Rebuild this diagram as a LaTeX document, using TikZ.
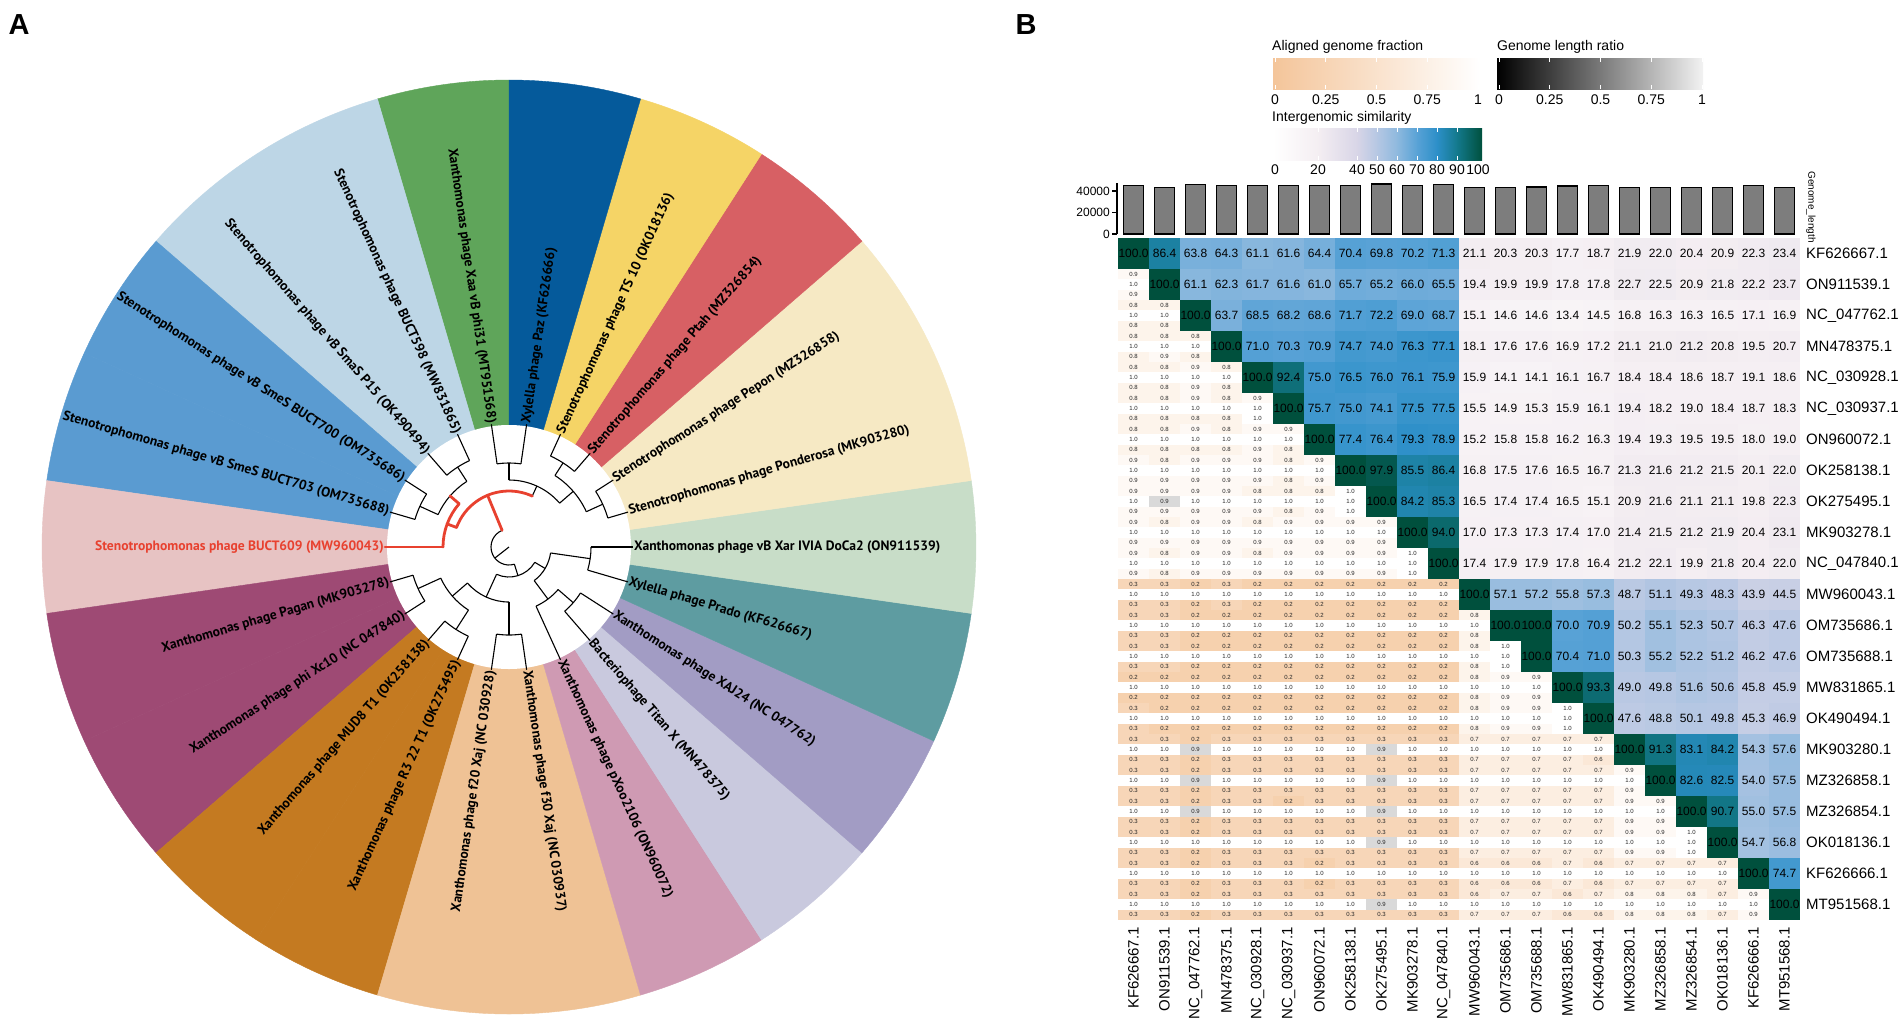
\documentclass[tikz,border=0pt]{standalone}
\usepackage{fontspec}
\setmainfont{Liberation Sans}
\newfontfamily\treefont{PT Sans}
% sector colours
\definecolor{secA}{HTML}{5FA55A}
\definecolor{secB}{HTML}{BDD6E6}
\definecolor{secC}{HTML}{5A9BD1}
\definecolor{secD}{HTML}{E7C3C3}
\definecolor{secE}{HTML}{9E4A74}
\definecolor{secF}{HTML}{C47A21}
\definecolor{secG}{HTML}{EFC295}
\definecolor{secH}{HTML}{CF9AB3}
\definecolor{secI}{HTML}{C9C9DE}
\definecolor{secJ}{HTML}{A29CC4}
\definecolor{secK}{HTML}{5E9CA1}
\definecolor{secL}{HTML}{C8DDC8}
\definecolor{secM}{HTML}{F6E9C4}
\definecolor{secN}{HTML}{D76064}
\definecolor{secO}{HTML}{F5D466}
\definecolor{secP}{HTML}{055A9B}
\definecolor{treered}{HTML}{E8412F}
% heatmap colours
\definecolor{sA}{HTML}{FFFFFF}
\definecolor{sB}{HTML}{F4EEF2}
\definecolor{sC}{HTML}{D8D5E7}
\definecolor{sD}{HTML}{B5C7E3}
\definecolor{sE}{HTML}{8EB9DE}
\definecolor{sF}{HTML}{58A2D6}
\definecolor{sG}{HTML}{2C8FC8}
\definecolor{sH}{HTML}{13798C}
\definecolor{sI}{HTML}{00503D}
\definecolor{peach}{HTML}{F4C59A}
\definecolor{bargray}{HTML}{7D7D7D}

\newcommand\setsim[1]{%
 \pgfmathsetmacro\hmv{#1}%
 \ifdim\hmv pt<20pt \pgfmathsetmacro\hmt{5*\hmv}\colorlet{cc}{sB!\hmt!sA}%
 \else\ifdim\hmv pt<40pt \pgfmathsetmacro\hmt{5*(\hmv-20)}\colorlet{cc}{sC!\hmt!sB}%
 \else\ifdim\hmv pt<50pt \pgfmathsetmacro\hmt{10*(\hmv-40)}\colorlet{cc}{sD!\hmt!sC}%
 \else\ifdim\hmv pt<60pt \pgfmathsetmacro\hmt{10*(\hmv-50)}\colorlet{cc}{sE!\hmt!sD}%
 \else\ifdim\hmv pt<70pt \pgfmathsetmacro\hmt{10*(\hmv-60)}\colorlet{cc}{sF!\hmt!sE}%
 \else\ifdim\hmv pt<80pt \pgfmathsetmacro\hmt{10*(\hmv-70)}\colorlet{cc}{sG!\hmt!sF}%
 \else\ifdim\hmv pt<90pt \pgfmathsetmacro\hmt{10*(\hmv-80)}\colorlet{cc}{sH!\hmt!sG}%
 \else \pgfmathsetmacro\hmt{min(100,10*(\hmv-90))}\colorlet{cc}{sI!\hmt!sH}%
 \fi\fi\fi\fi\fi\fi\fi}
\newcommand\fmtv[1]{\ifnum#1=10 1.0\else0.#1\fi}
\newcommand\tcarc[3]{\draw[treeline] (#2:#1) arc[start angle=#2, end angle=#3, radius=#1];}
\newcommand\tcrad[3]{\draw[treeline] (#1:#2) -- (#1:#3);}

\def\updata{%
{86.4,63.8,64.3,61.1,61.6,64.4,70.4,69.8,70.2,71.3,21.1,20.3,20.3,17.7,18.7,21.9,22.0,20.4,20.9,22.3,23.4},
{61.1,62.3,61.7,61.6,61.0,65.7,65.2,66.0,65.5,19.4,19.9,19.9,17.8,17.8,22.7,22.5,20.9,21.8,22.2,23.7},
{63.7,68.5,68.2,68.6,71.7,72.2,69.0,68.7,15.1,14.6,14.6,13.4,14.5,16.8,16.3,16.3,16.5,17.1,16.9},
{71.0,70.3,70.9,74.7,74.0,76.3,77.1,18.1,17.6,17.6,16.9,17.2,21.1,21.0,21.2,20.8,19.5,20.7},
{92.4,75.0,76.5,76.0,76.1,75.9,15.9,14.1,14.1,16.1,16.7,18.4,18.4,18.6,18.7,19.1,18.6},
{75.7,75.0,74.1,77.5,77.5,15.5,14.9,15.3,15.9,16.1,19.4,18.2,19.0,18.4,18.7,18.3},
{77.4,76.4,79.3,78.9,15.2,15.8,15.8,16.2,16.3,19.4,19.3,19.5,19.5,18.0,19.0},
{97.9,85.5,86.4,16.8,17.5,17.6,16.5,16.7,21.3,21.6,21.2,21.5,20.1,22.0},
{84.2,85.3,16.5,17.4,17.4,16.5,15.1,20.9,21.6,21.1,21.1,19.8,22.3},
{94.0,17.0,17.3,17.3,17.4,17.0,21.4,21.5,21.2,21.9,20.4,23.1},
{17.4,17.9,17.9,17.8,16.4,21.2,22.1,19.9,21.8,20.4,22.0},
{57.1,57.2,55.8,57.3,48.7,51.1,49.3,48.3,43.9,44.5},
{100.0,70.0,70.9,50.2,55.1,52.3,50.7,46.3,47.6},
{70.4,71.0,50.3,55.2,52.2,51.2,46.2,47.6},
{93.3,49.0,49.8,51.6,50.6,45.8,45.9},
{47.6,48.8,50.1,49.8,45.3,46.9},
{91.3,83.1,84.2,54.3,57.6},
{82.6,82.5,54.0,57.5},
{90.7,55.0,57.5},
{54.7,56.8},
{74.7}}

\def\lowdata{%
{9/10/9},
{8/10/8,8/10/8},
{8/10/8,8/10/9,8/10/8},
{8/10/8,8/10/8,9/10/9,8/10/8},
{8/10/8,8/10/8,9/10/8,8/10/8,9/10/10},
{8/10/8,8/10/8,9/10/8,8/10/8,9/10/9,9/10/8},
{9/10/9,8/10/9,9/10/9,9/10/9,9/10/9,8/10/8,9/10/9},
{9/10/9,9/9/9,9/10/9,9/10/9,8/10/9,8/10/8,8/10/9,10/10/10},
{9/10/9,8/10/9,9/10/9,9/10/9,8/10/9,9/10/9,9/10/9,9/10/9,9/10/9},
{9/10/9,8/10/8,9/10/9,9/10/9,8/10/9,9/10/9,9/10/9,9/10/9,9/10/9,10/10/10},
{3/10/3,3/10/3,2/10/2,3/10/3,2/10/2,2/10/2,2/10/2,2/10/2,2/10/2,2/10/2,2/10/2},
{3/10/3,3/10/3,2/10/2,2/10/2,2/10/2,2/10/2,2/10/2,2/10/2,2/10/2,2/10/2,2/10/2,8/10/8},
{3/10/3,3/10/3,2/10/2,2/10/2,2/10/2,2/10/2,2/10/2,2/10/2,2/10/2,2/10/2,2/10/2,8/10/8,10/10/10},
{2/10/2,2/10/2,2/10/2,2/10/2,2/10/2,2/10/2,2/10/2,2/10/2,2/10/2,2/10/2,2/10/2,8/10/8,9/10/9,9/10/9},
{3/10/3,2/10/2,2/10/2,2/10/2,2/10/2,2/10/2,2/10/2,2/10/2,2/10/2,2/10/2,2/10/2,8/10/8,9/10/9,9/10/9,10/10/10},
{3/10/3,3/10/3,2/9/2,3/10/3,3/10/3,3/10/3,3/10/3,3/10/3,3/9/3,3/10/3,3/10/3,7/10/7,7/10/7,7/10/7,7/10/7,7/10/6},
{3/10/3,3/10/3,2/9/2,3/10/3,3/10/3,3/10/3,3/10/3,3/10/3,3/9/3,3/10/3,3/10/3,7/10/7,7/10/7,7/10/7,7/10/7,7/10/7,9/10/9},
{3/10/3,3/10/3,2/9/2,3/10/3,3/10/3,2/10/3,3/10/3,3/10/3,3/9/3,3/10/3,3/10/3,7/10/7,7/10/7,7/10/7,7/10/7,7/10/7,9/10/9,9/10/9},
{3/10/3,3/10/3,2/10/2,3/10/3,3/10/3,3/10/3,3/10/3,3/10/3,3/9/3,3/10/3,3/10/3,7/10/7,7/10/7,7/10/7,7/10/7,7/10/7,9/10/9,9/10/9,10/10/10},
{3/10/3,3/10/3,2/10/2,3/10/3,3/10/3,3/10/3,2/10/2,3/10/3,3/10/3,3/10/3,3/10/3,6/10/6,6/10/6,6/10/6,7/10/7,6/10/6,7/10/7,7/10/7,7/10/7,7/10/7},
{3/10/3,3/10/3,2/10/2,3/10/3,3/10/3,3/10/3,3/10/3,3/10/3,3/9/3,3/10/3,3/10/3,6/10/7,7/10/7,7/10/7,6/10/6,7/10/6,8/10/8,8/10/8,8/10/8,7/10/7,9/10/9}}

\begin{document}
\begin{tikzpicture}[x=1pt,y=-1pt,
  treeline/.style={line width=1.1pt, black},
  redline/.style={line width=2.8pt, treered, line cap=round, line join=round},
  leaflab/.style={font=\fontsize{13.6}{13.6}\selectfont\treefont\bfseries, inner sep=0pt},
  upnum/.style={font=\fontsize{12}{12}\selectfont, inner sep=0pt},
  lonum/.style={font=\fontsize{6}{6}\selectfont, inner sep=0pt, text=black!85},
  axlab/.style={font=\fontsize{15}{15}\selectfont, inner sep=0pt},
  leglab/.style={font=\fontsize{14}{14}\selectfont, inner sep=0pt},
  ticklab/.style={font=\fontsize{12}{12}\selectfont, inner sep=0pt},
  gbar/.style={fill=bargray, draw=black, line width=1.2pt},
  paneltag/.style={font=\fontsize{29}{29}\selectfont\bfseries, inner sep=0pt}]
\fill[white] (0,0) rectangle (1900,1021);
\useasboundingbox (0,0) rectangle (1900,1021);

\node[paneltag] (tagA) at (19,25) {A};
\node[paneltag] (tagB) at (1026,25) {B};

% ================= Panel A =================
\begin{scope}[shift={(509,547)}, y=1pt]
 \foreach \c [count=\k from 0] in {secA,secB,secB,secC,secC,secD,secE,secE,secF,secF,secG,secG,secH,secI,secJ,secK,secL,secM,secM,secN,secO,secP} {
   \pgfmathsetmacro\sa{90+360/22*\k}
   \pgfmathsetmacro\sb{\sa+360/22}
   \fill[\c, draw=\c, line width=0.4pt] (0,0) -- (\sa:467) arc[start angle=\sa, end angle=\sb, radius=467] -- cycle;
 }
 \fill[white] (0,0) circle[radius=122];
 % leaf branches
 \foreach \ang/\rr in {98.18/84,114.55/95,130.91/95,147.27/98,163.64/98,196.36/100,212.73/100,229.09/98,245.45/98,261.82/88,278.18/88,294.55/65,310.91/85,327.27/85,343.64/82,360/82,16.36/103,32.73/103,49.09/100,65.45/100,81.82/84}
   {\draw[treeline] (\ang:\rr) -- (\ang:124);}
 % internal arcs
 \tcarc{84}{81.82}{98.18}
 \tcarc{100}{49.09}{65.45}
 \tcarc{103}{16.36}{32.73}
 \tcarc{85}{24.55}{57.27}
 \tcarc{67}{40.91}{90}
 \tcarc{95}{114.55}{130.91}
 \tcarc{98}{147.27}{163.64}
 \tcarc{78}{122.73}{155.45}
 \tcarc{18}{112.5}{287.39}
 \tcarc{30}{245.45}{329.32}
 \tcarc{55}{220.91}{270}
 \tcarc{75}{204.55}{237.27}
 \tcarc{100}{196.36}{212.73}
 \tcarc{98}{229.09}{245.45}
 \tcarc{88}{261.82}{278.18}
 \tcarc{42}{306.82}{351.82}
 \tcarc{65}{294.55}{319.09}
 \tcarc{85}{310.91}{327.27}
 \tcarc{82}{343.64}{360}
 % internal radials
 \tcrad{90}{67}{84}
 \tcrad{40.91}{67}{85}
 \tcrad{24.55}{85}{103}
 \tcrad{57.27}{85}{100}
 \tcrad{65.45}{56}{67}
 \tcrad{122.73}{78}{95}
 \tcrad{155.45}{78}{98}
 \tcrad{287.39}{18}{30}
 \tcrad{245.45}{30}{55}
 \tcrad{329.32}{30}{42}
 \tcrad{220.91}{55}{75}
 \tcrad{270}{55}{88}
 \tcrad{204.55}{75}{100}
 \tcrad{237.27}{75}{98}
 \tcrad{306.82}{42}{65}
 \tcrad{351.82}{42}{82}
 \tcrad{319.09}{65}{85}
 \draw[treeline] (0,0) -- (218:18);
 % highlighted path
 \draw[redline] (112.5:18) -- (112.5:56);
 \draw[redline] (65.45:56) arc[start angle=65.45, end angle=159.55, radius=56];
 \draw[redline] (159.55:56) -- (159.55:66);
 \draw[redline] (139.09:66) arc[start angle=139.09, end angle=180, radius=66];
 \draw[redline] (139.09:66) -- (139.09:78);
 \draw[redline] (180:66) -- (180:124);
 % leaf labels
 \foreach \lbl [count=\k from 0] in {
   {Xanthomonas phage Xaa vB phi31 (MT951568)},
   {Stenotrophomonas phage BUCT598 (MW831865)},
   {Stenotrophomonas phage vB SmaS P15 (OK490494)},
   {Stenotrophomonas phage vB SmeS BUCT700 (OM735686)},
   {Stenotrophomonas phage vB SmeS BUCT703 (OM735688)},
   {Stenotrophomonas phage BUCT609 (MW960043)},
   {Xanthomonas phage Pagan (MK903278)},
   {Xanthomonas phage phi Xc10 (NC 047840)},
   {Xanthomonas phage MUD8 T1 (OK258138)},
   {Xanthomonas phage R3 22 T1 (OK275495)},
   {Xanthomonas phage f20 Xaj (NC 030928)},
   {Xanthomonas phage f30 Xaj (NC 030937)},
   {Xanthomonas phage pXoo2106 (ON960072)},
   {Bacteriophage Titan X (MN478375)},
   {Xanthomonas phage XAJ24 (NC 047762)},
   {Xylella phage Prado (KF626667)},
   {Xanthomonas phage vB Xar IVIA DoCa2 (ON911539)},
   {Stenotrophomonas phage Ponderosa (MK903280)},
   {Stenotrophomonas phage Pepon (MZ326858)},
   {Stenotrophomonas phage Ptah (MZ326854)},
   {Stenotrophomonas phage TS 10 (OK018136)},
   {Xylella phage Paz (KF626666)}} {
   \pgfmathsetmacro\ang{90+360/22*(\k+0.5)}
   \ifnum\k=5 \def\lc{treered}\else\def\lc{black}\fi
   \ifnum\k<11
     \pgfmathsetmacro\rot{\ang-180}
     \node[leaflab, text=\lc, anchor=east, rotate=\rot] (leaf\k) at (\ang:125) {\lbl};
   \else
     \node[leaflab, text=\lc, anchor=west, rotate=\ang] (leaf\k) at (\ang:125) {\lbl};
   \fi
 }
\end{scope}

% ================= Panel B =================
% legends
\node[leglab, anchor=west] (lg1) at (1272,47) {Aligned genome fraction};
\shade[left color=peach, right color=white] (1273,58) rectangle (1480,89);
\node[leglab, anchor=west] (lg2) at (1497,47) {Genome length ratio};
\shade[left color=black, right color=black!5] (1497,58) rectangle (1703,89);
\foreach \t/\s [count=\n] in {0/0,0.25/0.25,0.5/0.5,0.75/0.75,1/1} {
  \draw[white, line width=0.8pt] (1275+203*\t,58) -- ++(0,4) (1275+203*\t,89) -- ++(0,-4);
  \draw[white, line width=0.8pt] (1499+203*\t,58) -- ++(0,4) (1499+203*\t,89) -- ++(0,-4);
  \node[leglab] (lga\n) at (1275+203*\t,100) {\s};
  \node[leglab] (lgb\n) at (1499+203*\t,100) {\s};
}
\node[leglab, anchor=west] (lg3) at (1272,118) {Intergenomic similarity};
\foreach \xa/\xb/\ca/\cb in {1273/1318.5/sA/sB,1318/1357.5/sB/sC,1357/1377.5/sC/sD,1377/1397.5/sD/sE,1397/1417.5/sE/sF,1417/1437.5/sF/sG,1437/1457.5/sG/sH,1457/1482/sH/sI}
  {\shade[left color=\ca, right color=\cb] (\xa,128) rectangle (\xb,160);}
\foreach \xp/\s [count=\n] in {1275/0,1318/20,1357/40,1377/50,1397/60,1417/70,1437/80,1457/90,1478/100} {
  \node[leglab] (lgc\n) at (\xp,170) {\s};
}
\foreach \xp in {1318,1357,1377,1397,1417,1437,1457}
  {\draw[white, line width=0.8pt] (\xp,128) -- ++(0,4) (\xp,160) -- ++(0,-4);}

% genome length bars
\draw[line width=1.2pt] (1117,183) -- (1117,234);
\foreach \yy/\s [count=\n] in {234/0,212.5/20000,191/40000} {
  \draw[line width=1.2pt] (1112,\yy) -- (1117,\yy);
  \node[ticklab, anchor=east] (ax\n) at (1110,\yy) {\s};
}
\foreach \L [count=\j from 0] in {45.3,43.1,46.2,45.3,45.0,45.3,45.0,45.3,46.6,45.3,45.9,43.1,43.1,43.7,44.7,45.0,43.1,43.1,43.1,43.1,45.3,43.1} {
  \pgfmathsetmacro\hh{\L*43/40}
  \draw[gbar] (1123.5+31*\j,234) rectangle ++(20,-\hh);
}
\node[font=\fontsize{10}{10}\selectfont, inner sep=0pt, rotate=-90] (glen) at (1811,207) {Genome\_length};

% lower triangle
\foreach \row [count=\i from 1] in \lowdata {
  \foreach \qa/\qm/\qb [count=\j from 0] in \row {
    \pgfmathtruncatemacro\hpa{100-10*\qa}
    \pgfmathtruncatemacro\hpm{15*(10-\qm)}
    \pgfmathtruncatemacro\hpb{100-10*\qb}
    \fill[peach!\hpa!white] (1118+31*\j,238+31*\i) rectangle ++(31,10.34);
    \fill[black!\hpm!white] (1118+31*\j,248.33+31*\i) rectangle ++(31,10.34);
    \fill[peach!\hpb!white] (1118+31*\j,258.67+31*\i) rectangle ++(31,10.34);
    \node[lonum] (la-\i-\j) at (1133.5+31*\j,243.17+31*\i) {\fmtv{\qa}};
    \node[lonum] (lm-\i-\j) at (1133.5+31*\j,253.5+31*\i) {\fmtv{\qm}};
    \node[lonum] (lb-\i-\j) at (1133.5+31*\j,263.83+31*\i) {\fmtv{\qb}};
  }
}
% upper triangle fills
\foreach \row [count=\i from 0] in \updata {
  \foreach \v [count=\k from 1] in \row {
    \pgfmathtruncatemacro\j{\i+\k}
    \setsim{\v}
    \fill[cc] (1118+31*\j,238+31*\i) rectangle ++(31,31);
  }
}
\foreach \i in {0,...,21} {\fill[sI] (1118+31*\i,238+31*\i) rectangle ++(31,31);}
% upper triangle numbers
\foreach \row [count=\i from 0] in \updata {
  \foreach \v [count=\k from 1] in \row {
    \pgfmathtruncatemacro\j{\i+\k}
    \node[upnum] (u-\i-\j) at (1133.5+31*\j,253.5+31*\i) {\v};
  }
}
\foreach \i in {0,...,21} {\node[upnum] (d-\i) at (1133.5+31*\i,253.5+31*\i) {100.0};}

% axis labels
\foreach \nm [count=\i from 0] in {KF626667.1,ON911539.1,NC\_047762.1,MN478375.1,NC\_030928.1,NC\_030937.1,ON960072.1,OK258138.1,OK275495.1,MK903278.1,NC\_047840.1,MW960043.1,OM735686.1,OM735688.1,MW831865.1,OK490494.1,MK903280.1,MZ326858.1,MZ326854.1,OK018136.1,KF626666.1,MT951568.1} {
  \node[axlab, anchor=west] (rl\i) at (1806,253.5+31*\i) {\nm};
  \node[axlab, anchor=east, rotate=90] (cl\i) at (1133.5+31*\i,927) {\nm};
}
\end{tikzpicture}
\end{document}
